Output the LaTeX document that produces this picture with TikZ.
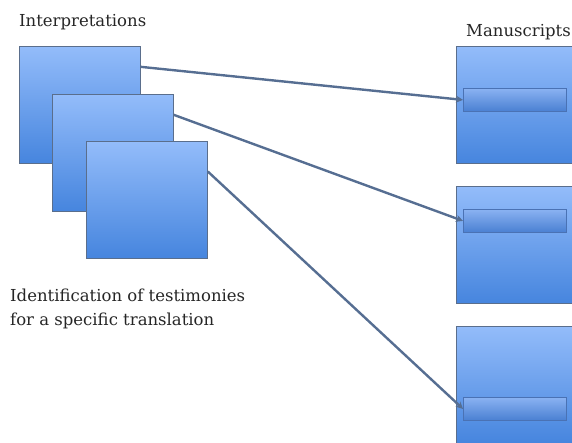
\documentclass[tikz,border=0pt]{standalone}
\usepackage{fontspec}
\setmainfont{DejaVu Serif}
\usetikzlibrary{arrows.meta}
\definecolor{boxtop}{HTML}{93BCFA}
\definecolor{boxbot}{HTML}{4685DE}
\definecolor{boxline}{HTML}{5A6E8C}
\definecolor{bartop}{HTML}{8AB2F2}
\definecolor{barbot}{HTML}{4A80D2}
\definecolor{barline}{HTML}{4A72B4}
\definecolor{arrowcol}{HTML}{566E92}
\tikzset{
  page/.style={rectangle, draw=boxline, line width=0.8pt, top color=boxtop, bottom color=boxbot,
    minimum width=121pt, minimum height=117pt, inner sep=0pt, anchor=north west},
  slip/.style={rectangle, draw=barline, line width=0.8pt, top color=bartop, bottom color=barbot,
    minimum width=103pt, minimum height=23pt, inner sep=0pt, anchor=north west},
  link/.style={draw=arrowcol, line width=2.4pt, -{Stealth[length=7pt, width=7pt]}},
  caption/.style={font=\fontsize{16.5}{24}\selectfont, text=black!85, align=left, inner sep=0pt}
}
\begin{document}
\begin{tikzpicture}[x=1pt, y=-1pt]
    \useasboundingbox (0,0) rectangle (572,443);
    \clip (0,0) rectangle (572,443);
    % interpretations
    \node[page] (int1) at (19,46) {};
    \node[page] (int2) at (52,94) {};
    \node[page] (int3) at (86,141) {};
    % manuscripts
    \node[page] (ms1) at (456,46) {};
    \node[page] (ms2) at (456,186) {};
    \node[page] (ms3) at (456,326) {};
    \node[slip] (bar1) at (463,88) {};
    \node[slip] (bar2) at (463,209) {};
    \node[slip] (bar3) at (463,397) {};
    % texts
    \node[caption, anchor=base west] (lint) at (19,27) {Interpretations};
    \node[caption, anchor=base west] (lms) at (466,37) {Manuscripts};
    \node[caption, anchor=base west] (lid) at (10,325) {Identification of testimonies\\for a specific translation};
    % links
    \draw[link] (int1.32.5) -- (bar1.west);
    \draw[link] (int2.32.7) -- (bar2.west);
    \draw[link] (int3.25.8) -- (bar3.west);
\end{tikzpicture}
\end{document}
